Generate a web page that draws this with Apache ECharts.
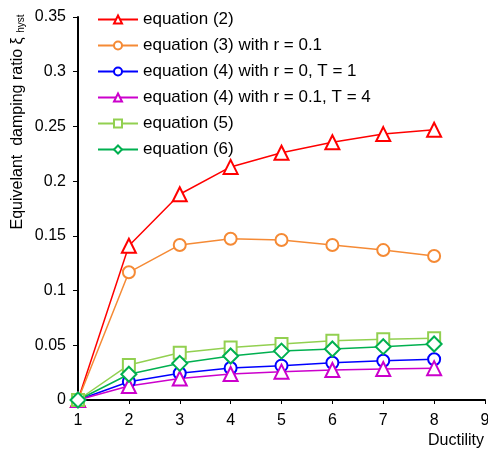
<!DOCTYPE html>
<html>
<head>
<meta charset="utf-8">
<script src="https://cdn.jsdelivr.net/npm/echarts@6/dist/echarts.min.js"></script>
<style>
    html, body { margin: 0; padding: 0; background: #fff; }
    #chart { width: 488px; height: 450px; }
</style>
</head>
<body>
<div id="chart"></div>
<script>
// ductility values on the x axis
var ductility = [1, 2, 3, 4, 5, 6, 7, 8];

// equivalent damping ratio per equation
var eq2 = [0, 0.141, 0.188, 0.213, 0.226, 0.2355, 0.243, 0.247];
var eq3 = [0, 0.1167, 0.1417, 0.1474, 0.1462, 0.1417, 0.137, 0.1316];
var eq4a = [0, 0.0167, 0.0244, 0.0293, 0.0314, 0.0341, 0.0359, 0.0372];
var eq4b = [0, 0.0128, 0.0197, 0.0238, 0.0259, 0.0274, 0.0283, 0.0291];
var eq5 = [0, 0.032, 0.0432, 0.048, 0.0512, 0.0542, 0.0555, 0.0564];
var eq6 = [0, 0.0235, 0.0335, 0.0402, 0.0447, 0.0466, 0.0487, 0.0512];

var names = ['equation (2)', 'equation (3) with r = 0.1', 'equation (4) with r = 0, T = 1',
    'equation (4) with r = 0.1, T = 4', 'equation (5)', 'equation (6)'];

function pairs(arr) {
    return ductility.map(function (d, i) { return [d, arr[i]]; });
}

function line(name, arr, color, symbol, size) {
    return {
        name: name,
        type: 'line',
        data: pairs(arr),
        symbol: symbol,
        symbolSize: size,
        showAllSymbol: true,
        lineStyle: { color: color, width: 1.5 },
        itemStyle: { color: color, borderColor: color, borderWidth: 1.5 },
        emphasis: { disabled: true },
        animation: false
    };
}

var chart = echarts.init(document.getElementById('chart'));
var font = 'Liberation Sans, Arial, sans-serif';

chart.setOption({
    textStyle: { fontFamily: font },
    grid: { left: 78, right: 3, top: 17, bottom: 50, outerBoundsMode: 'none' },
    legend: {
        orient: 'vertical',
        left: 92,
        top: 6,
        itemWidth: 40,
        itemHeight: 10,
        itemGap: 9,
        textStyle: { fontSize: 17, color: '#000', fontFamily: font },
        data: names
    },
    xAxis: {
        type: 'value',
        min: 1,
        max: 9,
        interval: 1,
        splitLine: { show: false },
        axisLine: { lineStyle: { color: '#000', width: 2 } },
        axisTick: { length: 4, lineStyle: { color: '#000' } },
        axisLabel: { fontSize: 16, color: '#000', margin: 13 }
    },
    yAxis: {
        type: 'value',
        min: 0,
        max: 0.35,
        interval: 0.05,
        splitLine: { show: false },
        axisLine: { show: true, lineStyle: { color: '#000', width: 2 } },
        axisTick: { show: true, length: 5, lineStyle: { color: '#000' } },
        axisLabel: { fontSize: 16, color: '#000', margin: 12 }
    },
    graphic: [{
        type: 'text',
        x: 18,
        y: 122,
        rotation: Math.PI / 2,
        style: {
            text: 'Equivelant  damping ratio ξ {s|hyst}',
            fontSize: 16,
            fontFamily: font,
            fill: '#000',
            align: 'center',
            verticalAlign: 'middle',
            rich: { s: { fontSize: 10, fontFamily: font, fill: '#000', padding: [6, 0, 0, 0] } }
        }
    }, {
        type: 'text',
        right: 4,
        top: 433,
        style: { text: 'Ductility', fontSize: 16, fontFamily: font, fill: '#000' }
    }],
    series: [
        line(names[0], eq2, '#ff0000', 'emptyTriangle', 14),
        line(names[1], eq3, '#f58a35', 'emptyCircle', 12),
        line(names[2], eq4a, '#0000ff', 'emptyCircle', 12),
        line(names[3], eq4b, '#cc00cc', 'emptyTriangle', 14),
        line(names[4], eq5, '#92d050', 'emptyRect', 12),
        line(names[5], eq6, '#00b050', 'emptyDiamond', 15)
    ]
});
</script>
</body>
</html>
